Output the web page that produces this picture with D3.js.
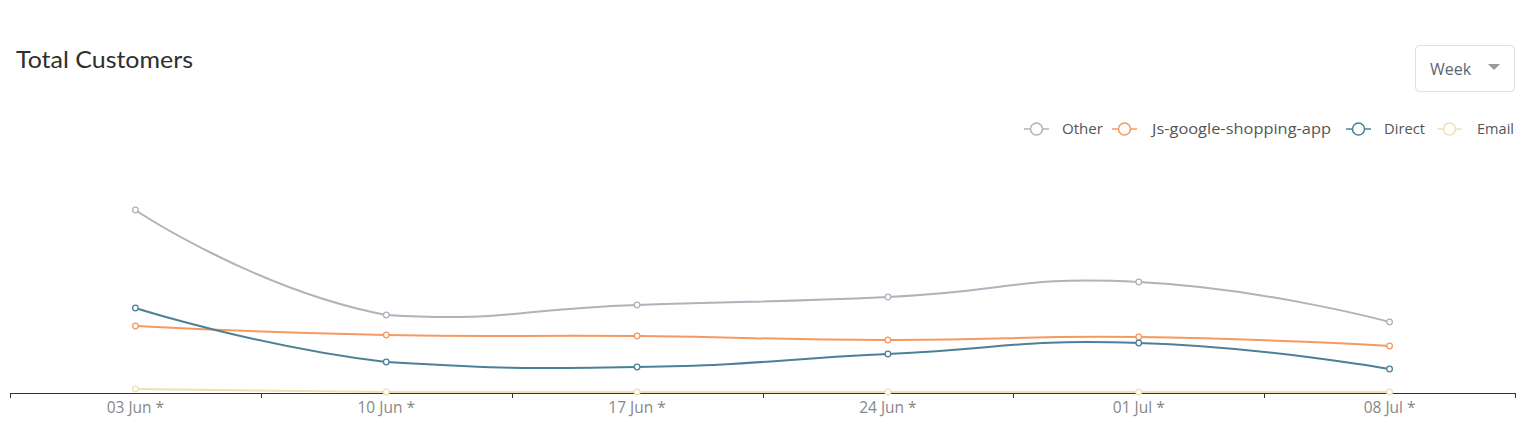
<!DOCTYPE html>
<html>
<head>
<meta charset="utf-8">
<script src="https://cdn.jsdelivr.net/npm/d3@7"></script>
<style>
  html, body { margin: 0; padding: 0; background: #fff; }
  svg { display: block; }
</style>
</head>
<body>
<svg id="chart" width="1540" height="425"></svg>
<script>
// ---- data ----
const categories = ["03 Jun *", "10 Jun *", "17 Jun *", "24 Jun *", "01 Jul *", "08 Jul *"];
const seriesNames = ["Other", "Js-google-shopping-app", "Direct", "Email"];
const otherValues = [183, 78, 88, 96, 111, 71];
const jsGoogleValues = [67, 58, 57, 53, 56, 47];
const directValues = [85, 31, 26, 39, 50, 24];
const emailValues = [4, 1, 1, 1, 1, 1];
const seriesColors = ["#adb4bc", "#f59a5e", "#4d8098", "#ece2b4"];
const yMax = 250;

const series = [otherValues, jsGoogleValues, directValues, emailValues].map((v, i) => ({
  name: seriesNames[i], values: v, color: seriesColors[i]
}));

// smooth curve with bounding-box constraint (ECharts-like smoothing)
function smoothConstrained(smooth) {
  return function(context) {
    let pts;
    return {
      areaStart() {}, areaEnd() {},
      lineStart() { pts = []; },
      point(x, y) { pts.push([+x, +y]); },
      lineEnd() {
        const n = pts.length;
        if (!n) return;
        const minX = d3.min(pts, p => p[0]), maxX = d3.max(pts, p => p[0]);
        const minY = d3.min(pts, p => p[1]), maxY = d3.max(pts, p => p[1]);
        const clamp = p => [Math.max(minX, Math.min(maxX, p[0])), Math.max(minY, Math.min(maxY, p[1]))];
        context.moveTo(pts[0][0], pts[0][1]);
        let cp0 = pts[0].slice();
        for (let i = 1; i < n; i++) {
          const p = pts[i], prev = pts[i - 1], next = pts[i + 1];
          let cp1, v = [0, 0], ratio = 0.5;
          if (!next) {
            cp1 = p.slice();
          } else {
            v = [next[0] - prev[0], next[1] - prev[1]];
            const lp = Math.hypot(p[0] - prev[0], p[1] - prev[1]);
            const ln = Math.hypot(next[0] - p[0], next[1] - p[1]);
            ratio = ln / (ln + lp);
            cp1 = [p[0] - v[0] * smooth * (1 - ratio), p[1] - v[1] * smooth * (1 - ratio)];
          }
          const a = clamp(cp0), b = clamp(cp1);
          context.bezierCurveTo(a[0], a[1], b[0], b[1], p[0], p[1]);
          cp0 = [p[0] + v[0] * smooth * ratio, p[1] + v[1] * smooth * ratio];
        }
      }
    };
  };
}

const svg = d3.select("#chart");
const font = "'Open Sans', 'Noto Sans', sans-serif";

// title
svg.append("text").attr("x", 16).attr("y", 68)
  .attr("font-family", "Lato, 'Open Sans', sans-serif").attr("font-size", 23)
  .attr("textLength", 177).attr("lengthAdjust", "spacingAndGlyphs")
  .attr("fill", "#2f2f2f").text("Total Customers");

// dropdown
const dd = svg.append("g");
dd.append("rect").attr("x", 1415.5).attr("y", 45.5).attr("width", 99).attr("height", 46)
  .attr("rx", 4).attr("fill", "#fff").attr("stroke", "#dcdfe3");
dd.append("text").attr("x", 1430).attr("y", 75).attr("font-family", font)
  .attr("font-size", 16).attr("fill", "#5d6673").text("Week");
dd.append("path").attr("d", "M1488,64 L1500,64 L1494,70 Z").attr("fill", "#999");

// scales
const x = d3.scaleBand().domain(categories).range([10, 1515]);
const y = d3.scaleLinear().domain([0, yMax]).range([393, 143]);

const line = d3.line()
  .x((d, i) => x(categories[i]) + x.bandwidth() / 2)
  .y(d => y(d))
  .curve(smoothConstrained(0.5));

// axis
const axis = d3.axisBottom(x).tickSize(0).tickPadding(9);
const ax = svg.append("g").attr("transform", "translate(0,393)").call(axis);
ax.select(".domain").attr("stroke", "#333").attr("stroke-width", 1);
ax.selectAll("text").attr("font-family", font).attr("font-size", 15.5).attr("fill", "#878787");
const boundaries = categories.map(c => x(c)).concat([x.range()[1]]);
ax.selectAll(".bt").data(boundaries).enter().append("line").attr("class", "bt")
  .attr("x1", d => Math.round(d) + 0.5).attr("x2", d => Math.round(d) + 0.5)
  .attr("y1", 0).attr("y2", 5).attr("stroke", "#333");

// series (email drawn first)
[3, 1, 2, 0].forEach(si => {
  const s = series[si];
  const g = svg.append("g");
  g.append("path").datum(s.values).attr("d", line).attr("fill", "none")
    .attr("stroke", s.color).attr("stroke-width", 2);
  g.selectAll("circle").data(s.values).enter().append("circle")
    .attr("cx", (d, i) => x(categories[i]) + x.bandwidth() / 2)
    .attr("cy", d => y(d)).attr("r", 2.8)
    .attr("fill", "#fff").attr("stroke", s.color).attr("stroke-width", 1.3);
});

// legend
const legendX = [1024, 1112, 1346, 1437];
const legendTextW = [41, 179, 41, 37];
const legendTextX = [38, 40, 38, 40];
series.forEach((s, i) => {
  const g = svg.append("g").attr("transform", `translate(${legendX[i]},129)`);
  g.append("line").attr("x1", 0).attr("x2", 25).attr("y1", 0).attr("y2", 0)
    .attr("stroke", s.color).attr("stroke-width", 1.5);
  g.append("circle").attr("cx", 12.5).attr("cy", 0).attr("r", 6)
    .attr("fill", "#fff").attr("stroke", s.color).attr("stroke-width", 1.5);
  g.append("text").attr("x", legendTextX[i]).attr("y", 5).attr("font-family", font)
    .attr("font-size", 15).attr("textLength", legendTextW[i]).attr("lengthAdjust", "spacingAndGlyphs")
    .attr("fill", "#555").text(s.name);
});
</script>
</body>
</html>
